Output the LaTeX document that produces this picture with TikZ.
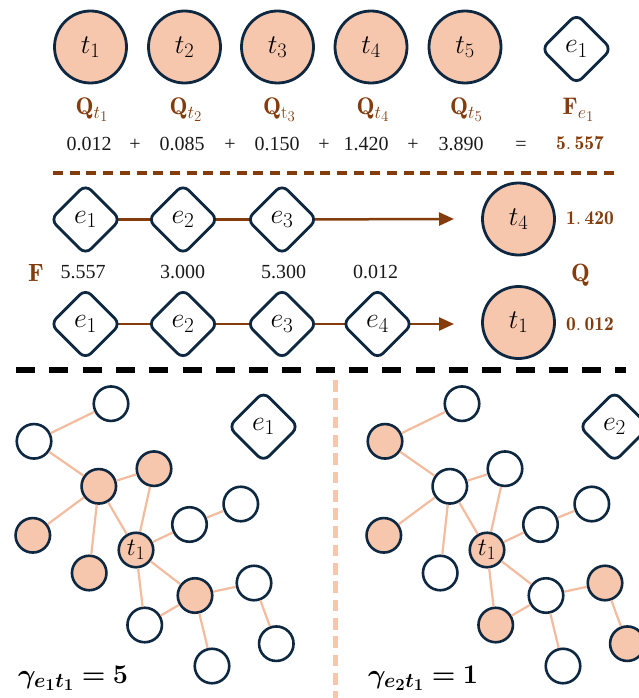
\RequirePackage{fix-cm}
\documentclass[tikz,border=0pt]{standalone}
\usepackage{amsmath,bm}
\usepackage{fontspec}
\newfontfamily\numfont{Liberation Serif}
\renewcommand\defaultscriptratio{.76}
\renewcommand\defaultscriptscriptratio{.62}
\usetikzlibrary{shapes.geometric,arrows.meta}
\pgfdeclarelayer{background}
\pgfsetlayers{background,main}
\definecolor{nodeline}{HTML}{0E2841}
\definecolor{peach}{HTML}{F6C6AD}
\definecolor{peachline}{HTML}{F4BC9E}
\definecolor{brn}{HTML}{843C0C}
\definecolor{txt}{HTML}{1A1A1A}
\tikzset{
  bigcirc/.style={circle, draw=nodeline, line width=2.8pt, fill=peach, minimum size=72pt, inner sep=0pt, font=\fontsize{27}{32}\selectfont},
  dmd/.style={diamond, draw=nodeline, line width=2.8pt, fill=white, minimum width=71pt, minimum height=71pt, inner sep=0pt, rounded corners=8pt, font=\fontsize{28}{32}\selectfont},
  gcirc/.style={circle, draw=nodeline, line width=2.6pt, minimum size=34.5pt, inner sep=0pt, font=\fontsize{25}{28}\selectfont},
  gW/.style={gcirc, fill=white},
  gO/.style={gcirc, fill=peach},
  gedge/.style={draw=peachline, line width=2.2pt},
  bline/.style={draw=brn, line width=2.5pt},
  barrow/.style={bline, -{Triangle[length=15pt,width=13pt]}},
  qlab/.style={text=brn, font=\fontsize{24}{28}\selectfont, anchor=base, inner sep=0pt},
  numlab/.style={text=txt, font=\numfont\fontsize{20}{24}\selectfont, anchor=base, inner sep=0pt},
  bnum/.style={text=brn, font=\fontsize{19.5}{24}\selectfont, anchor=base, inner sep=0pt},
  gamlab/.style={text=black, font=\fontsize{27}{32}\selectfont, anchor=base west, inner sep=0pt},
}
\begin{document}
\begin{tikzpicture}[x=1pt,y=-1pt]
\useasboundingbox (0,0) rectangle (639,698);
\clip (0,0) rectangle (639,698);
\begin{pgfonlayer}{background}
\fill[white] (0,0) rectangle (639,698);
\end{pgfonlayer}

% ---------- top row ----------
\node[bigcirc] (t1) at (90.5,47) {$t_1$};
\node[bigcirc] (t2) at (184.5,47) {$t_2$};
\node[bigcirc] (t3) at (277.5,47) {$t_3$};
\node[bigcirc] (t4) at (371,47) {$t_4$};
\node[bigcirc] (t5) at (465,47) {$t_5$};
\node[dmd] (e1) at (576.5,49) {$e_1$};

\node[qlab] (q1) at (92,114.5) {$\mathbf{Q}_{t_1}$};
\node[qlab] (q2) at (186,114.5) {$\mathbf{Q}_{t_2}$};
\node[qlab] (q3) at (279.5,114.5) {$\mathbf{Q}_{\mathrm{t}_3}$};
\node[qlab] (q4) at (373,114.5) {$\mathbf{Q}_{t_4}$};
\node[qlab] (q5) at (466.5,114.5) {$\mathbf{Q}_{t_5}$};
\node[qlab] (fe) at (578.5,114.5) {$\mathbf{F}_{e_1}$};

\node[numlab] (n1) at (89,150) {0.012};
\node[numlab] (p1) at (135,150) {+};
\node[numlab] (n2) at (182,150) {0.085};
\node[numlab] (p2) at (230,150) {+};
\node[numlab] (n3) at (277,150) {0.150};
\node[numlab] (p3) at (324,150) {+};
\node[numlab] (n4) at (366,150) {1.420};
\node[numlab] (p4) at (413,150) {+};
\node[numlab] (n5) at (461,150) {3.890};
\node[numlab] (eq) at (521,150) {=};
\node[bnum] (sum) at (580,149) {$\mathbf{5.\,557}$};

% brown dashed separator
\draw[draw=brn, line width=3.2pt, dash pattern=on 10pt off 6.7pt] (53,173) -- (614,173);

% ---------- chain rows ----------
\node[dmd] (ra1) at (85.5,219.5) {$e_1$};
\node[dmd] (ra2) at (183,219.5) {$e_2$};
\node[dmd] (ra3) at (282,219.5) {$e_3$};
\node[bigcirc] (rat) at (518.5,219) {$t_4$};
\coordinate (raend) at (454,219);
\begin{pgfonlayer}{background}
\draw[bline] (ra1.center) -- (ra2.center);
\draw[bline] (ra2.center) -- (ra3.center);
\draw[barrow] (ra3.center) -- (raend);
\end{pgfonlayer}
\node[bnum] (raq) at (590,224) {$\mathbf{1.\,420}$};

\node[qlab, font=\fontsize{25}{28}\selectfont] (Flab) at (36,281) {$\mathbf{F}$};
\node[numlab] (m1) at (83,278) {5.557};
\node[numlab] (m2) at (182.5,278) {3.000};
\node[numlab] (m3) at (283.5,278) {5.300};
\node[numlab] (m4) at (375.5,278) {0.012};
\node[qlab, font=\fontsize{25}{28}\selectfont] (Qlab) at (580.5,281) {$\mathbf{Q}$};

\node[dmd] (rb1) at (85.5,324) {$e_1$};
\node[dmd] (rb2) at (183,324) {$e_2$};
\node[dmd] (rb3) at (282,324) {$e_3$};
\node[dmd] (rb4) at (377.5,324) {$e_4$};
\node[bigcirc] (rbt) at (518.5,322.5) {$t_1$};
\coordinate (rbend) at (454,324);
\begin{pgfonlayer}{background}
\draw[bline] (rb1.center) -- (rb2.center);
\draw[bline] (rb2.center) -- (rb3.center);
\draw[bline] (rb3.center) -- (rb4.center);
\draw[barrow] (rb4.center) -- (rbend);
\end{pgfonlayer}
\node[bnum] (rbq) at (590,330) {$\mathbf{0.\,012}$};

% black dashed separator
\draw[draw=black, line width=6pt, dash pattern=on 19pt off 14.3pt] (16,370) -- (626,370);
% vertical peach dashed separator
\draw[draw=peach, line width=5.3pt, dash pattern=on 11.7pt off 6.6pt] (335.7,380) -- (335.7,698);

% ---------- left graph ----------
\node[gW] (LA) at (111,403.7) {};
\node[gW] (LB) at (34,441.3) {};
\node[gO] (LC) at (98.8,486.3) {};
\node[gO] (LD) at (154,468.7) {};
\node[gO] (LE) at (32.8,535.3) {};
\node[gO] (LF) at (89.2,573) {};
\node[gO] (LT) at (136,550) {$t_1$};
\node[gW] (LG) at (189.5,524.5) {};
\node[gW] (LH) at (240.8,504) {};
\node[gO] (LI) at (195,595.5) {};
\node[gW] (LJ) at (254,583) {};
\node[gW] (LK) at (144.7,625) {};
\node[gW] (LL) at (212,666) {};
\node[gW] (LM) at (276.3,643.7) {};
\node[dmd] (Le) at (263.5,426.7) {$e_1$};
\foreach \a/\b in {LA/LB,LB/LC,LC/LD,LC/LE,LC/LF,LC/LT,LD/LT,LT/LG,LG/LH,LT/LI,LT/LK,LK/LI,LI/LJ,LJ/LM,LI/LL}
  \draw[gedge] (\a) -- (\b);
\node[gamlab] (Lgam) at (18,683) {$\bm{\gamma_{e_1t_1}=5}$};

% ---------- right graph ----------
\node[gW] (RA) at (462,403.7) {};
\node[gO] (RB) at (385,441.3) {};
\node[gW] (RC) at (449.8,486.3) {};
\node[gW] (RD) at (505,468.7) {};
\node[gO] (RE) at (383.8,535.3) {};
\node[gW] (RF) at (440.2,573) {};
\node[gO] (RT) at (487,550) {$t_1$};
\node[gW] (RG) at (540.5,524.5) {};
\node[gW] (RH) at (591.8,504) {};
\node[gW] (RI) at (546,595.5) {};
\node[gO] (RJ) at (605,583) {};
\node[gO] (RK) at (495.7,625) {};
\node[gW] (RL) at (563,666) {};
\node[gO] (RM) at (627.3,643.7) {};
\node[dmd] (Re) at (614.5,426.7) {$e_2$};
\foreach \a/\b in {RA/RB,RB/RC,RC/RD,RC/RE,RC/RF,RC/RT,RD/RT,RT/RG,RG/RH,RT/RI,RT/RK,RK/RI,RI/RJ,RJ/RM,RI/RL}
  \draw[gedge] (\a) -- (\b);
\node[gamlab] (Rgam) at (368,683) {$\bm{\gamma_{e_2t_1}=1}$};
\end{tikzpicture}
\end{document}
